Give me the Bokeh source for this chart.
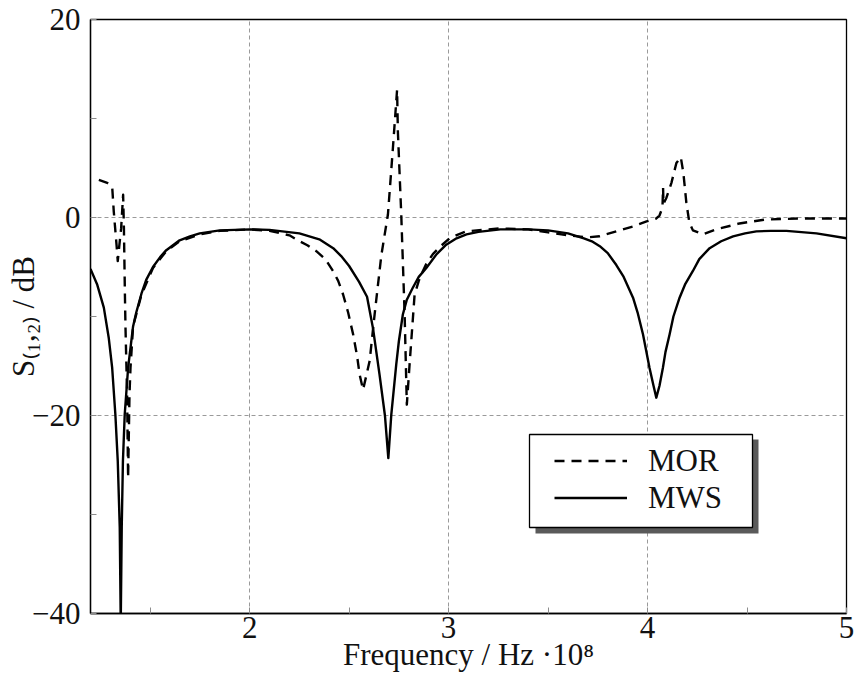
from bokeh.plotting import figure
from bokeh.models import (Range1d, FixedTicker, Legend, LegendItem, BoxAnnotation)
from bokeh.embed import file_html
from bokeh.resources import INLINE

# ---- data (frequency in 1e8 Hz, S12 in dB) ----
mws_x = [1.2, 1.234, 1.267, 1.292, 1.309, 1.325, 1.337, 1.347, 1.352, 1.357,
         1.363, 1.372, 1.389, 1.414, 1.43, 1.456, 1.48, 1.514, 1.55, 1.581,
         1.648, 1.7, 1.749, 1.85, 2.0, 2.1, 2.25, 2.3, 2.35, 2.42,
         2.46, 2.5, 2.55, 2.59, 2.62, 2.653, 2.68, 2.697, 2.712, 2.737,
         2.75, 2.77, 2.79, 2.82, 2.85, 2.888, 2.94, 2.988, 3.04, 3.09,
         3.15, 3.26, 3.4, 3.5, 3.6, 3.68, 3.72, 3.76, 3.8, 3.843,
         3.88, 3.927, 3.95, 3.977, 4.01, 4.03, 4.044, 4.06, 4.077, 4.09,
         4.111, 4.13, 4.161, 4.19, 4.228, 4.26, 4.312, 4.37, 4.43, 4.49,
         4.547, 4.62, 4.698, 4.849, 5.0]
mws_y = [-5.2, -6.8, -9.1, -12.2, -15.2, -19.9, -24.6, -31.3, -41, -31.3,
         -24.6, -19.9, -15.2, -11.0, -9.6, -7.7, -6.3, -5.0, -4.0, -3.3,
         -2.3, -1.9, -1.6, -1.3, -1.2, -1.25, -1.6, -1.9, -2.2, -3.1,
         -3.9, -4.9, -6.5, -8.0, -11.2, -15.9, -20, -24.3, -19.9, -14.8,
         -12.5, -9.8, -8.3, -7.1, -6.0, -5.1, -3.7, -2.75, -2.1, -1.7,
         -1.45, -1.2, -1.2, -1.3, -1.6, -2.1, -2.4, -2.9, -3.6, -4.8,
         -6.0, -8.1, -9.6, -11.8, -15.2, -17.0, -18.2, -17.0, -15.2, -13.6,
         -11.8, -10.0, -8.1, -6.7, -5.4, -4.2, -3.1, -2.4, -1.9, -1.6,
         -1.4, -1.35, -1.35, -1.6, -2.1]

mor_x = [1.242, 1.284, 1.309, 1.317, 1.331, 1.337, 1.347, 1.354, 1.364, 1.368,
         1.373, 1.376, 1.384, 1.389, 1.396, 1.401, 1.414, 1.456, 1.514, 1.581,
         1.648, 1.749, 1.85, 2.0, 2.1, 2.2, 2.251, 2.29, 2.335, 2.38,
         2.419, 2.445, 2.47, 2.495, 2.52, 2.54, 2.553, 2.57, 2.603, 2.628,
         2.662, 2.695, 2.72, 2.741, 2.745, 2.762, 2.779, 2.79, 2.804, 2.829,
         2.85, 2.871, 2.89, 2.921, 2.96, 3.005, 3.05, 3.09, 3.26, 3.4,
         3.5, 3.6, 3.7, 3.759, 3.843, 3.927, 3.995, 4.044, 4.06, 4.075,
         4.078, 4.08, 4.095, 4.12, 4.145, 4.167, 4.18, 4.195, 4.21, 4.228,
         4.278, 4.345, 4.462, 4.596, 4.764, 5.0]
mor_y = [3.8, 3.5, 3.1, 0.6, -2.8, -4.4, -2.4, -1.1, 2.3, -1.1,
         -7.8, -11.2, -17.9, -26.3, -17.9, -15.2, -11.0, -7.8, -5.1, -3.4,
         -2.4, -1.7, -1.35, -1.2, -1.35, -1.8, -2.4, -2.8, -3.4, -4.2,
         -5.4, -6.4, -7.8, -9.6, -11.8, -14.0, -15.9, -17.4, -14.5, -9.8,
         -3.8, 0.3, 7.0, 12.9, 8.7, 0.3, -9.8, -18.9, -14.8, -7.8,
         -6.4, -5.4, -4.6, -3.7, -2.9, -2.1, -1.7, -1.4, -1.1, -1.2,
         -1.5, -1.8, -2.0, -1.9, -1.4, -0.9, -0.4, -0.1, 0.2, 1.0,
         3.0, 1.4, 2.0, 3.5, 5.5, 6.1, 4.5, 1.5, -0.5, -1.3,
         -1.7, -1.2, -0.6, -0.2, -0.1, -0.1]

x_ticks = [2, 3, 4, 5]
x_minor = [1.5, 2.5, 3.5, 4.5]
y_ticks = [-40, -20, 0, 20]
y_minor = [-30, -10, 10]
y_tick_labels = {-40: "\u221240", -20: "\u221220", 0: "0", 20: "20"}
series_names = ["MOR", "MWS"]
x_title = "Frequency / Hz \u00b710\u2078"
y_title = "S\u208d\u2081,\u2082\u208e / dB"

FONT = "Liberation Serif"
FS = "31px"

p = figure(width=856, height=677, x_range=Range1d(1.2, 5), y_range=Range1d(-40, 20),
           output_backend="svg", toolbar_location=None,
           min_border_left=90, min_border_right=10, min_border_top=19, min_border_bottom=64)
p.background_fill_color = "white"
p.border_fill_color = "white"
p.outline_line_color = "black"
p.outline_line_width = 1.3

p.xaxis.ticker = FixedTicker(ticks=x_ticks, minor_ticks=x_minor)
p.yaxis.ticker = FixedTicker(ticks=y_ticks, minor_ticks=y_minor)
p.yaxis.major_label_overrides = y_tick_labels
for ax in (p.xaxis, p.yaxis):
    ax.axis_line_color = "black"
    ax.axis_line_width = 1.3
    ax.major_tick_in = 6
    ax.major_tick_out = 0
    ax.minor_tick_in = 6
    ax.minor_tick_out = 0
    ax.major_tick_line_color = "#8c8c8c"
    ax.minor_tick_line_color = "#8c8c8c"
    ax.major_label_text_font = FONT
    ax.major_label_text_font_size = FS
    ax.major_label_text_color = "#111111"
    ax.major_label_text_line_height = 1.0
    ax.axis_label_text_font = FONT
    ax.axis_label_text_font_size = FS
    ax.axis_label_text_font_style = "normal"
    ax.axis_label_text_color = "#111111"
    ax.axis_label_text_line_height = 1.0
p.xaxis.major_label_standoff = 3
p.yaxis.major_label_standoff = 10
p.xaxis.axis_label = x_title
p.yaxis.axis_label = y_title
p.xaxis.axis_label_standoff = -4
p.yaxis.axis_label_standoff = -12

for g in (p.xgrid, p.ygrid):
    g.grid_line_color = "#9a9a9a"
    g.grid_line_dash = "4 3"
    g.grid_line_width = 1

r_mor = p.line(mor_x, mor_y, line_color="black", line_width=2.4, line_dash="10 7", line_join="round")
r_mws = p.line(mws_x, mws_y, line_color="black", line_width=2.4, line_join="round")

# legend box with shadow (screen units, relative to frame)
shadow = BoxAnnotation(left=445, right=668, bottom=80, top=174,
                       left_units="screen", right_units="screen",
                       top_units="screen", bottom_units="screen",
                       fill_color="#5a5a5a", fill_alpha=1, line_color=None)
box = BoxAnnotation(left=439, right=662, bottom=86, top=179,
                    left_units="screen", right_units="screen",
                    top_units="screen", bottom_units="screen",
                    fill_color="white", fill_alpha=1,
                    line_color="black", line_alpha=1, line_width=1.3)
p.add_layout(shadow)
p.add_layout(box)

legend = Legend(items=[LegendItem(label=series_names[0], renderers=[r_mor]),
                       LegendItem(label=series_names[1], renderers=[r_mws])],
                location=(464, 97), orientation="vertical",
                border_line_color=None, background_fill_alpha=0,
                padding=0, margin=0, spacing=0,
                glyph_width=73, glyph_height=37, label_height=37, label_standoff=21,
                label_text_font=FONT, label_text_font_size=FS, label_text_color="#111111")
p.add_layout(legend)

open("out.html", "w").write(file_html(p, INLINE))
